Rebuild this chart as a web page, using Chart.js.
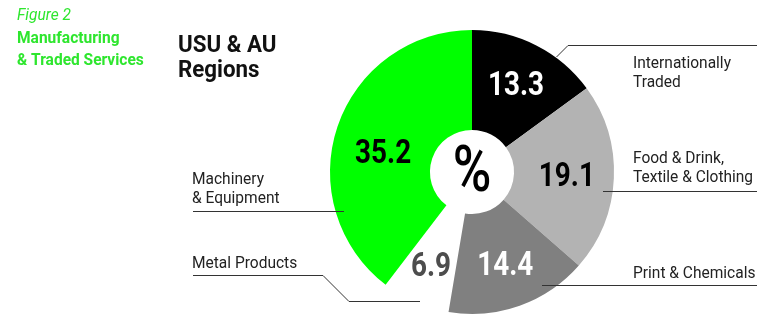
<!DOCTYPE html>
<html><head><meta charset="utf-8">
<script src="https://cdn.jsdelivr.net/npm/chart.js@4/dist/chart.umd.min.js"></script>
<style>
html,body{margin:0;padding:0;background:#fff;}
#wrap{position:relative;width:757px;height:315px;}
</style></head>
<body><div id="wrap"><canvas id="c" width="757" height="315"></canvas></div>
<script>
const categories = ["Internationally Traded", "Food & Drink, Textile & Clothing", "Print & Chemicals", "Metal Products", "Machinery & Equipment"];
const values = [13.3, 19.1, 14.4, 6.9, 35.2];
const valueLabels = ["13.3", "19.1", "14.4", "6.9", "35.2"];

const F = "Roboto,'Liberation Sans',sans-serif";
const sliceColors = ["#000000", "#b3b3b3", "#808080", "rgba(255,255,255,0)", "#00ff00"];
const labelColors = ["#ffffff", "#000000", "#ffffff", "#4d4d4d", "#000000"];
const labelR = [0.683, 0.669, 0.697, 0.725, 0.64];
const labelDA = [0, 0, 0, 0, -6.7];

function scaledText(ctx, text, x, y, sx, align) {
  ctx.save();
  ctx.translate(x, y);
  ctx.scale(sx, 1);
  ctx.textAlign = align;
  ctx.fillText(text, 0, 0);
  ctx.restore();
}

const overlay = {
  id: 'overlay',
  afterDatasetsDraw(chart) {
    const ctx = chart.ctx;
    const meta = chart.getDatasetMeta(0);
    ctx.save();
    const a0 = meta.data[0];
    const cx = a0.x, cy = a0.y, R = a0.outerRadius;
    ctx.fillStyle = '#000';
    ctx.textBaseline = 'middle';
    ctx.font = "500 64px " + F;
    scaledText(ctx, '%', cx, cy + 3, 0.82, 'center');
    ctx.font = "bold 34px " + F;
    meta.data.forEach((arc, i) => {
      const mid = (arc.startAngle + arc.endAngle) / 2 + labelDA[i] * Math.PI / 180;
      const r = R * labelR[i];
      ctx.fillStyle = labelColors[i];
      scaledText(ctx, valueLabels[i], cx + Math.cos(mid) * r, cy + Math.sin(mid) * r + 1, 0.82, 'center');
    });
    ctx.strokeStyle = '#333'; ctx.lineWidth = 1;
    const lines = [
      [[556.5, 57], [568, 45.5], [757, 45.5]],
      [[603, 191.5], [757, 191.5]],
      [[542, 285.5], [757, 285.5]],
      [[193, 211.5], [344, 211.5]],
      [[193, 275.5], [323, 275.5], [349, 301.5], [420, 301.5]]
    ];
    lines.forEach(pts => {
      ctx.beginPath();
      ctx.moveTo(pts[0][0], pts[0][1]);
      for (let k = 1; k < pts.length; k++) ctx.lineTo(pts[k][0], pts[k][1]);
      ctx.stroke();
    });
    ctx.fillStyle = '#222'; ctx.textBaseline = 'alphabetic';
    ctx.font = "16px " + F;
    const txt = [
      ["Internationally", 633, 68], ["Traded", 633, 87],
      ["Food & Drink,", 633, 163], ["Textile & Clothing", 633, 182],
      ["Print & Chemicals", 633, 278],
      ["Machinery", 192, 184], ["& Equipment", 192, 203],
      ["Metal Products", 192, 268]
    ];
    txt.forEach(t => scaledText(ctx, t[0], t[1], t[2], 0.97, 'left'));
    ctx.fillStyle = '#2ee62e';
    ctx.font = "italic 16px " + F;
    scaledText(ctx, "Figure 2", 17, 20, 0.97, 'left');
    ctx.font = "bold 16px " + F;
    scaledText(ctx, "Manufacturing", 17, 43, 0.97, 'left');
    scaledText(ctx, "& Traded Services", 17, 65, 0.97, 'left');
    ctx.fillStyle = '#111';
    ctx.font = "bold 24px " + F;
    scaledText(ctx, "USU & AU", 178, 52, 0.93, 'left');
    scaledText(ctx, "Regions", 178, 77, 0.93, 'left');
    ctx.restore();
  }
};

new Chart(document.getElementById('c'), {
  type: 'doughnut',
  data: {
    labels: categories,
    datasets: [{ data: values, backgroundColor: sliceColors, borderWidth: 0, hoverOffset: 0 }]
  },
  options: {
    responsive: false, animation: false,
    cutout: '29.6%',
    layout: { padding: { left: 330, right: 143, top: 30, bottom: 1 } },
    plugins: { legend: { display: false }, tooltip: { enabled: false } },
    events: []
  },
  plugins: [overlay]
});
</script></body></html>
